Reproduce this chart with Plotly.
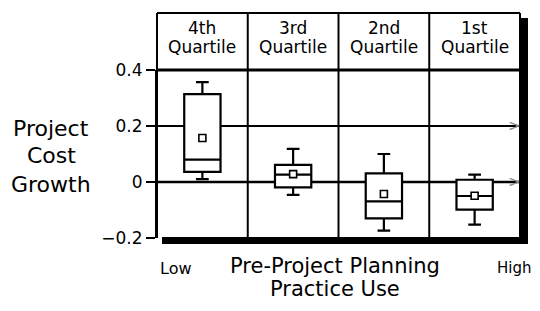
import plotly.graph_objects as go

# ---- data ----
categories = ["4th Quartile", "3rd Quartile", "2nd Quartile", "1st Quartile"]
header_top = ["4th", "3rd", "2nd", "1st"]
header_bottom = ["Quartile", "Quartile", "Quartile", "Quartile"]
lower = [0.010, -0.046, -0.174, -0.152]
q1 = [0.036, -0.019, -0.130, -0.099]
median = [0.080, 0.026, -0.069, -0.050]
q3 = [0.314, 0.061, 0.031, 0.008]
upper = [0.357, 0.118, 0.100, 0.026]
mean = [0.157, 0.028, -0.043, -0.049]
ytick_vals = [-0.2, 0, 0.2, 0.4]
ytick_text = ["\u22120.2", "0", "0.2", "0.4"]

# the page body has an 8px default margin on every side,
# so the figure is made 16px smaller to fit the 540x311 window exactly
OFF = 8
W, H = 540 - 2 * OFF, 311 - 2 * OFF
L, R, T, B = 157, 520, 70, 238   # plot area in screen pixels
FONT = "DejaVu Sans"

def px(X):
    return (X - L) / (R - L)

def py(Y):
    return (B - Y) / (B - T)

xpos = list(range(len(categories)))

fig = go.Figure()
fig.add_trace(go.Box(
    x=xpos, q1=q1, median=median, q3=q3, lowerfence=lower, upperfence=upper,
    width=0.4, whiskerwidth=0.35, fillcolor="white",
    line=dict(color="black", width=2.2), boxpoints=False, showlegend=False,
))
fig.add_trace(go.Scatter(
    x=xpos, y=mean, mode="markers", showlegend=False,
    marker=dict(symbol="square", size=7, color="white",
                line=dict(color="black", width=1.6)),
))

shapes = []
for v, w in [(0.2, 2), (0, 2.5)]:
    shapes.append(dict(type="line", xref="paper", yref="y", x0=0, x1=1, y0=v, y1=v,
                       line=dict(color="black", width=w), layer="below"))
shapes.append(dict(type="line", xref="paper", yref="paper", x0=0, x1=1, y0=1, y1=1,
                   line=dict(color="black", width=3)))
shapes.append(dict(type="line", xref="paper", yref="paper", x0=0, x1=1, y0=py(13), y1=py(13),
                   line=dict(color="black", width=2)))
shapes.append(dict(type="line", xref="paper", yref="paper", x0=0, x1=0, y0=0, y1=py(13),
                   line=dict(color="black", width=2)))
shapes.append(dict(type="line", xref="paper", yref="paper", x0=1, x1=1, y0=0, y1=py(13),
                   line=dict(color="black", width=2)))
for xv in [0.5, 1.5, 2.5]:
    shapes.append(dict(type="line", xref="x", yref="paper", x0=xv, x1=xv, y0=0, y1=py(13),
                       line=dict(color="black", width=2), layer="below"))
shapes.append(dict(type="rect", xref="paper", yref="paper", x0=px(520), x1=px(528),
                   y0=py(244), y1=py(18), fillcolor="black", line=dict(width=0)))
shapes.append(dict(type="rect", xref="paper", yref="paper", x0=px(162), x1=px(528),
                   y0=py(244), y1=py(237), fillcolor="black", line=dict(width=0)))

def label(text, X, Y, size, color="black", xref="paper", yref="paper"):
    return dict(x=X, y=Y, xref=xref, yref=yref, text=text, showarrow=False,
                xanchor="center", yanchor="middle",
                font=dict(family=FONT, size=size, color=color))

ann = []
for i in xpos:
    ann.append(label(header_top[i], i, py(28), 17, xref="x"))
    ann.append(label(header_bottom[i], i, py(47), 17, xref="x"))
for txt, Y in [("Project", 128), ("Cost", 155), ("Growth", 184)]:
    ann.append(label(txt, px(51), py(Y), 22))
ann.append(label("Pre-Project Planning", px(335), py(266), 21))
ann.append(label("Practice Use", px(335), py(289), 21))
ann.append(label("Low", px(176), py(268), 16))
ann.append(label("High", px(514), py(268), 15))
for v in [0.2, 0]:
    ann.append(label(">", px(514), v, 15, color="#8a8a8a", yref="y"))

fig.update_layout(
    width=W, height=H,
    margin=dict(l=L - OFF, r=(540 - OFF) - R, t=T - OFF, b=(311 - OFF) - B),
    paper_bgcolor="white", plot_bgcolor="white",
    shapes=shapes, annotations=ann,
    xaxis=dict(range=[-0.5, 3.5], showticklabels=False, showgrid=False, zeroline=False,
               ticks="", showline=False),
    yaxis=dict(range=[-0.2, 0.4], tickvals=ytick_vals, ticktext=ytick_text,
               ticks="outside", ticklen=9, tickwidth=2, tickcolor="black",
               showgrid=False, zeroline=False, showline=True, linecolor="black", linewidth=2,
               tickfont=dict(family=FONT, size=17, color="black")),
)
fig.write_html("out.html")
